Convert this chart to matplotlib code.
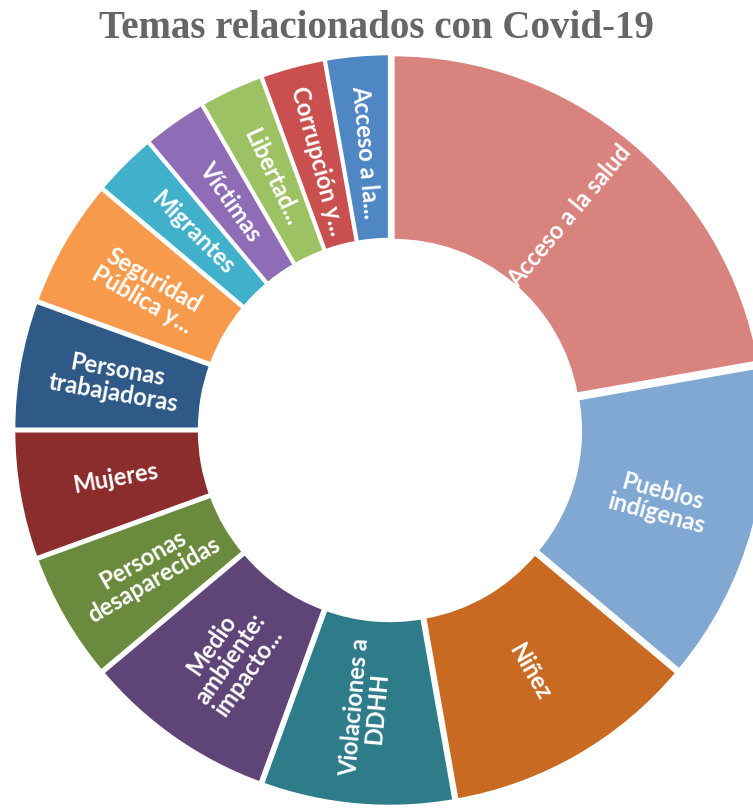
import matplotlib
matplotlib.use("Agg")
import matplotlib.pyplot as plt
import numpy as np

# datos (aprox.)
temas = ["Acceso a la salud", "Pueblos\nindígenas", "Niñez", "Violaciones a\nDDHH",
         "Medio\nambiente:\nimpacto...", "Personas\ndesaparecidas", "Mujeres",
         "Personas\ntrabajadoras", "Seguridad\nPública y...", "Migrantes",
         "Víctimas", "Libertad...", "Corrupción y...", "Acceso a la..."]
valores = [8, 5, 4, 3, 3, 2, 2, 2, 2, 1, 1, 1, 1, 1]
colores = ["#d9837f", "#80a8d2", "#c86a22", "#2e7b8a", "#5f4577", "#6a8b3d", "#8c2d2d",
           "#2f5a87", "#f79a4c", "#41b1cb", "#8e6db6", "#9cc264", "#c9504e", "#4f87c5"]

W, H = 753, 808
cx, cy, R = 390, 430, 372

fig = plt.figure(figsize=(W / 100, H / 100), dpi=100)
ax = fig.add_axes([0, 0, 1, 1])

wedges, _ = ax.pie(valores, colors=colores, startangle=90, counterclock=False,
                   radius=1.0, explode=[0.012] * len(valores),
                   wedgeprops=dict(width=0.5, edgecolor="white", linewidth=2.5))

ax.set_aspect("auto")
ax.set_xlim(-cx / R, (W - cx) / R)
ax.set_ylim(-(H - cy) / R, cy / R)
ax.axis("off")

rmid = 0.75
for w, txt in zip(wedges, temas):
    ang = (w.theta1 + w.theta2) / 2
    rot = ang
    while rot > 90:
        rot -= 180
    while rot <= -90:
        rot += 180
    x = rmid * np.cos(np.radians(ang))
    y = rmid * np.sin(np.radians(ang))
    ax.text(x, y, txt, rotation=rot, rotation_mode="anchor", ha="center", va="center",
            color="white", fontsize=17, fontweight="bold", family=["Lato", "DejaVu Sans"],
            linespacing=1.0)

fig.text(0.5, 1 - 29 / H, "Temas relacionados con Covid-19", ha="center", va="center",
         fontsize=28, fontweight="bold", color="#666666", family=["Liberation Serif", "DejaVu Serif"])

fig.savefig("out.png", dpi=100)
